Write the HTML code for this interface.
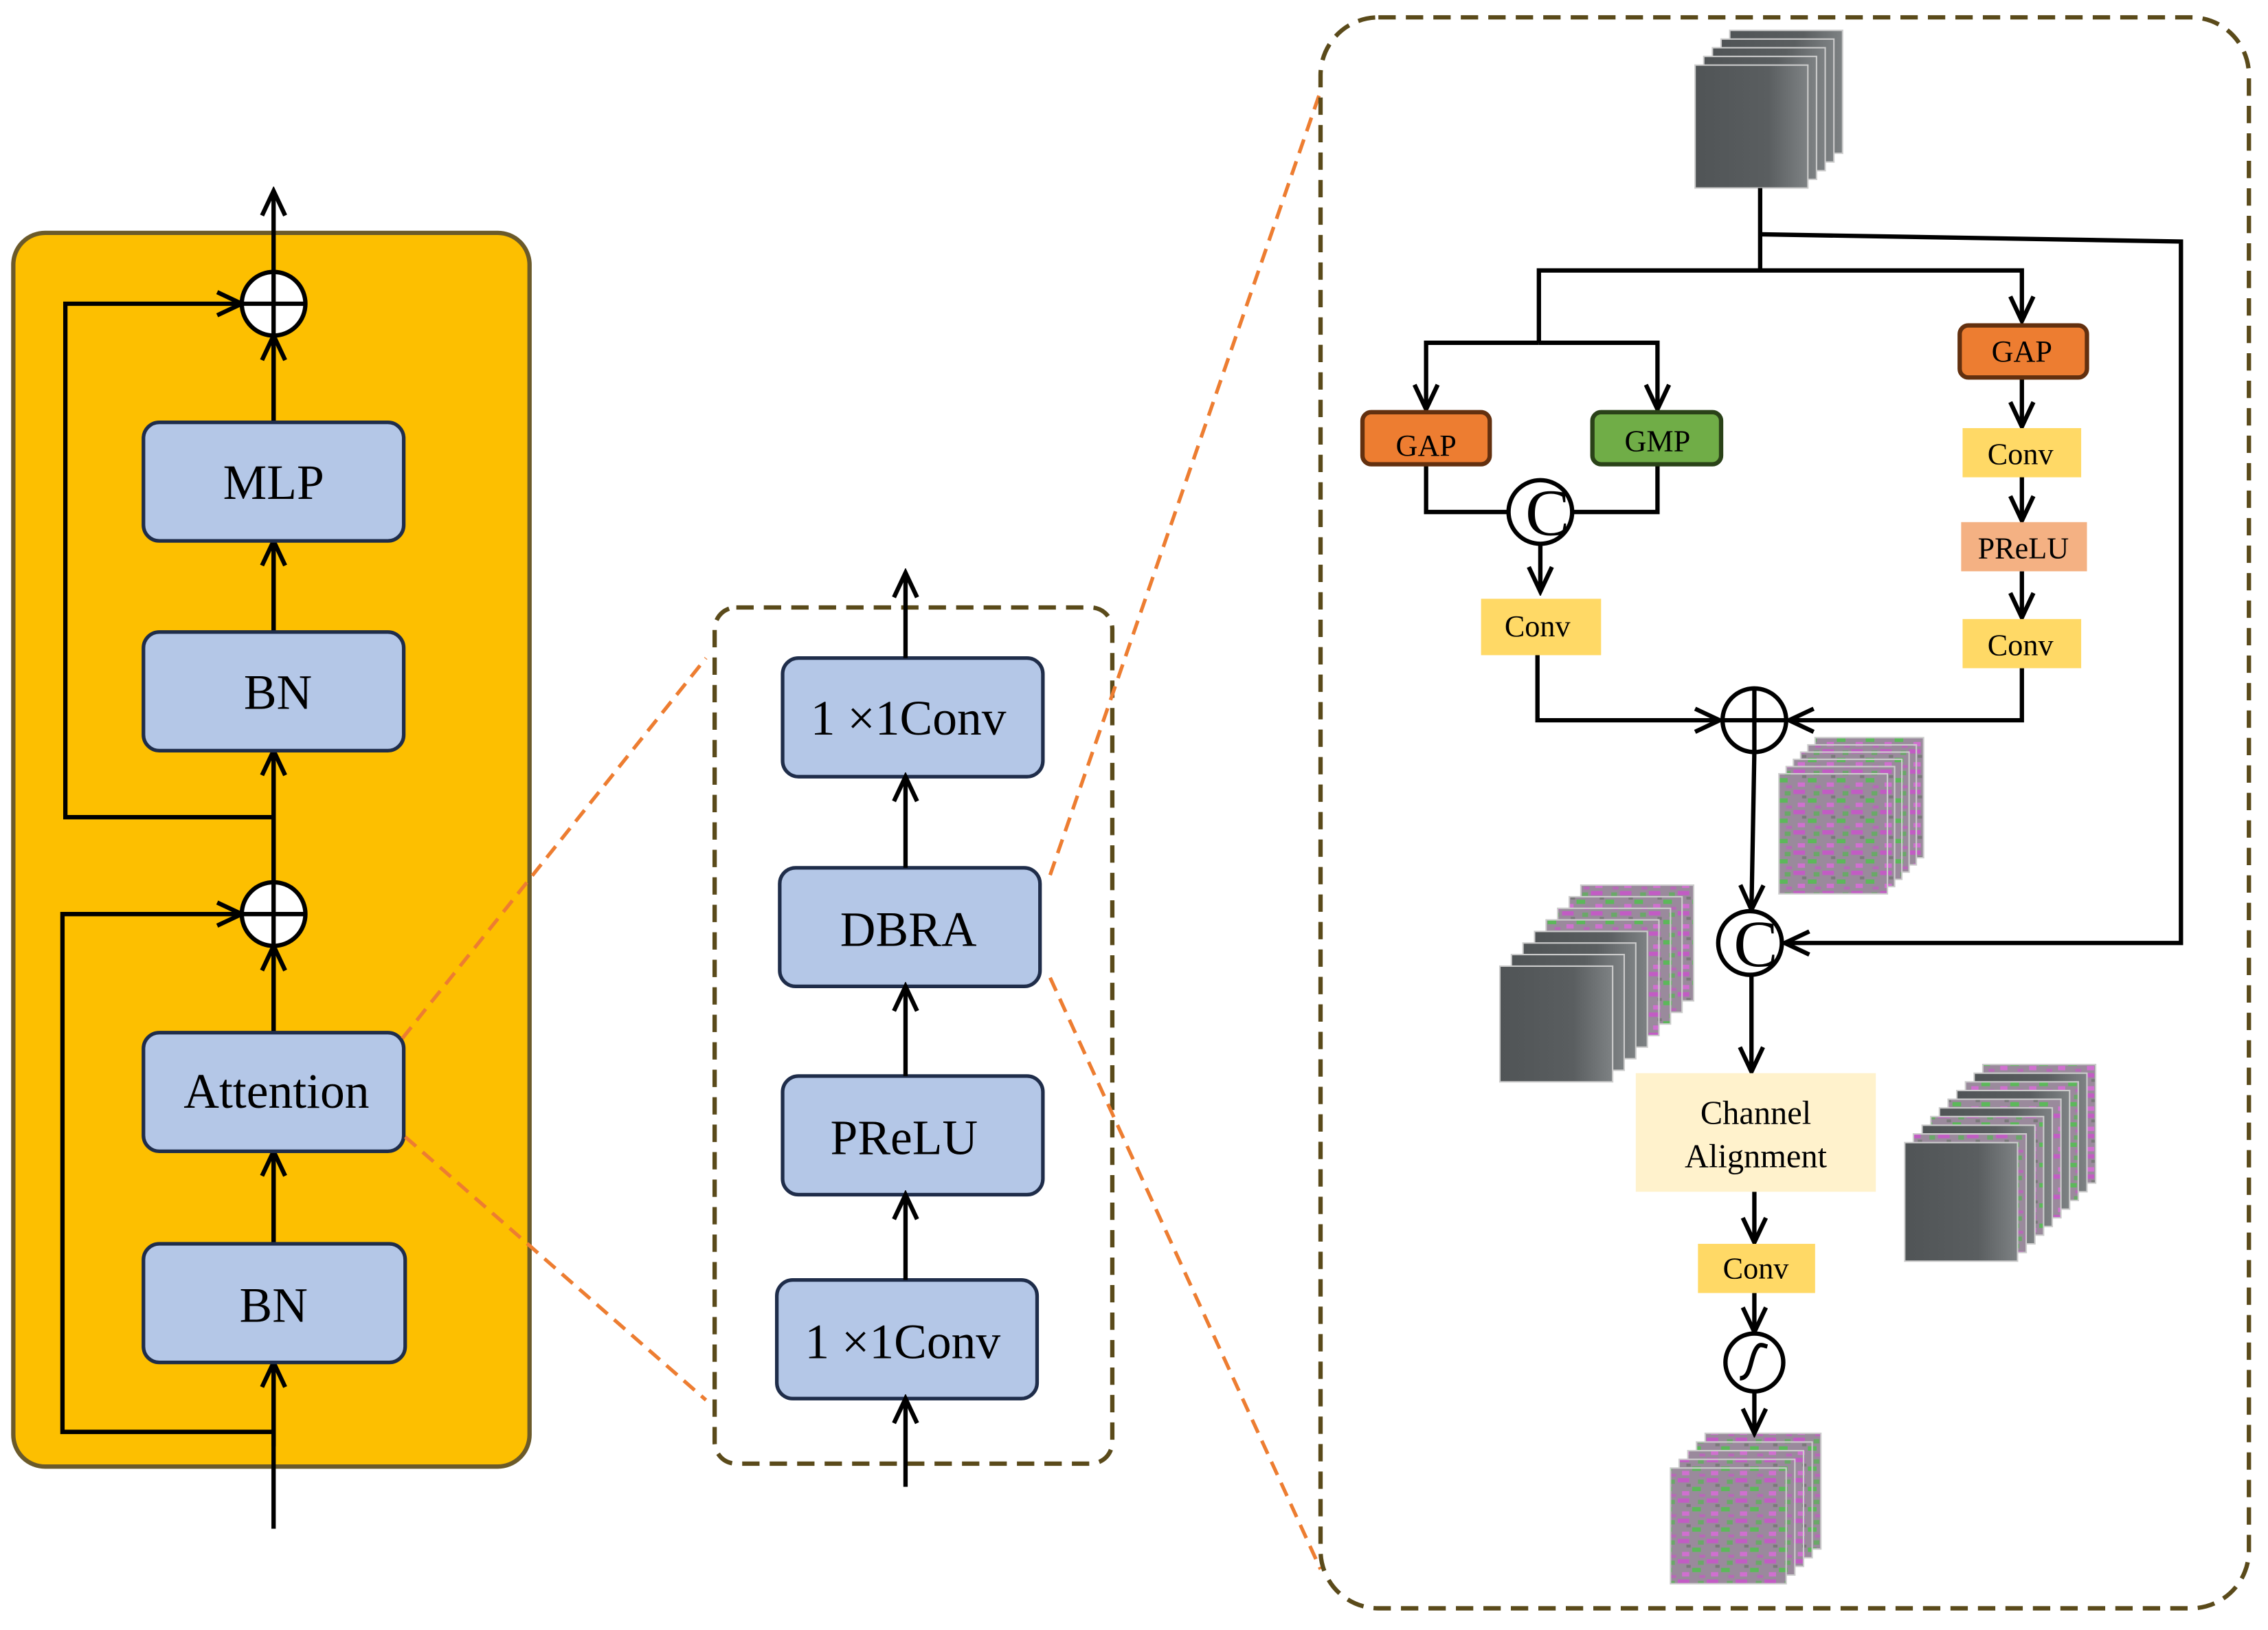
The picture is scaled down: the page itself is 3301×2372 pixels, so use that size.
<!DOCTYPE html>
<html><head><meta charset="utf-8"><style>
html,body{margin:0;padding:0;background:#fff}
svg{display:block}
text{font-family:"Liberation Serif",serif;fill:#000}
</style></head><body>
<svg id="s" width="3301" height="2372" viewBox="0 0 1568 1127" xmlns="http://www.w3.org/2000/svg">
<defs>
<marker id="a" viewBox="0 0 22 22" refX="19" refY="11" markerWidth="22" markerHeight="22" markerUnits="userSpaceOnUse" orient="auto">
<path d="M2,3 L19,11 L2,19" fill="none" stroke="#000" stroke-width="3"/>
</marker>
<pattern id="col" width="20" height="14" patternUnits="userSpaceOnUse">
<rect width="20" height="14" fill="#9a8a9c"/>
<rect x="0" y="0" width="8" height="3" fill="#c25cc4"/>
<rect x="10" y="6" width="6" height="3" fill="#5cb85a"/>
<rect x="3" y="9" width="5" height="3" fill="#d070d0"/>
<rect x="14" y="1" width="4" height="3" fill="#6aa868"/>
<rect x="6" y="4" width="3" height="2" fill="#7a7a7a"/>
<rect x="15" y="11" width="4" height="2" fill="#b868b8"/>
</pattern>
<linearGradient id="gr" x1="0" y1="0" x2="1" y2="0">
<stop offset="0" stop-color="#505456"/><stop offset="0.65" stop-color="#5a5e60"/><stop offset="1" stop-color="#7e8284"/>
</linearGradient>
</defs>
<g fill="none" stroke="#000" stroke-width="3">
<rect x="9" y="161" width="357" height="853" rx="22" fill="#FDBF00" stroke="#6b5a2a"/>
<line x1="189" y1="1057" x2="189" y2="132" marker-end="url(#a)"/>
<polyline points="189,565 45,565 45,210 167,210" marker-end="url(#a)"/>
<polyline points="189,990 43,990 43,632 167,632" marker-end="url(#a)"/>
</g>
<g stroke="#000" stroke-width="3" fill="none">
<line x1="189" y1="292" x2="189" y2="232" marker-end="url(#a)"/>
<line x1="189" y1="437" x2="189" y2="374" marker-end="url(#a)"/>
<line x1="189" y1="610" x2="189" y2="519" marker-end="url(#a)"/>
<line x1="189" y1="714" x2="189" y2="654" marker-end="url(#a)"/>
<line x1="189" y1="860" x2="189" y2="796" marker-end="url(#a)"/>
<line x1="189" y1="1000" x2="189" y2="942" marker-end="url(#a)"/>
</g>
<g stroke="#1f2d4a" stroke-width="2.5" fill="#B4C7E7">
<rect x="99" y="292" width="180" height="82" rx="11"/>
<rect x="99" y="437" width="180" height="82" rx="11"/>
<rect x="99" y="714" width="180" height="82" rx="11"/>
<rect x="99" y="860" width="181" height="82" rx="11"/>
<rect x="541" y="455" width="180" height="82" rx="11"/>
<rect x="539" y="600" width="180" height="82" rx="11"/>
<rect x="541" y="744" width="180" height="82" rx="11"/>
<rect x="537" y="885" width="180" height="82" rx="11"/>
</g>
<g font-size="34" text-anchor="middle">
<text x="189" y="345">MLP</text>
<text x="192" y="490">BN</text>
<text x="191" y="766">Attention</text>
<text x="189" y="914">BN</text>
<text x="628" y="508">1 ×1Conv</text>
<text x="628" y="654">DBRA</text>
<text x="625" y="798">PReLU</text>
<text x="624" y="939">1 ×1Conv</text>
</g>
<g stroke="#000" stroke-width="3" fill="#fff">
<circle cx="189" cy="210" r="22"/><circle cx="189" cy="632" r="22"/>
</g>
<g stroke="#000" stroke-width="3">
<line x1="167" y1="210" x2="211" y2="210"/><line x1="189" y1="188" x2="189" y2="232"/>
<line x1="167" y1="632" x2="211" y2="632"/><line x1="189" y1="610" x2="189" y2="654"/>
</g>
<rect x="494" y="420" width="275" height="592" rx="15" fill="none" stroke="#5a4a1a" stroke-width="3" stroke-dasharray="12,7"/>
<g stroke="#000" stroke-width="3" fill="none">
<line x1="626" y1="1028" x2="626" y2="967" marker-end="url(#a)"/>
<line x1="626" y1="885" x2="626" y2="826" marker-end="url(#a)"/>
<line x1="626" y1="744" x2="626" y2="682" marker-end="url(#a)"/>
<line x1="626" y1="600" x2="626" y2="537" marker-end="url(#a)"/>
<line x1="626" y1="455" x2="626" y2="396" marker-end="url(#a)"/>
</g>
<g stroke="#ED7D31" stroke-width="2.5" stroke-dasharray="10,6">
<line x1="278" y1="718" x2="488" y2="455"/>
<line x1="280" y1="786" x2="488" y2="968"/>
<line x1="726" y1="605" x2="913" y2="63"/>
<line x1="726" y1="676" x2="913" y2="1085"/>
</g>
<rect x="913" y="12" width="642" height="1100" rx="40" fill="none" stroke="#5a4a1a" stroke-width="3" stroke-dasharray="12,7"/>
<g id="stk"></g>
<g stroke="#000" stroke-width="3" fill="none">
<polyline points="1217,130 1217,187"/>
<polyline points="1217,162 1508,167 1508,652 1234,652" marker-end="url(#a)"/>
<polyline points="1064,237 1064,187 1398,187 1398,222" marker-end="url(#a)"/>
<polyline points="1064,237 986,237 986,283" marker-end="url(#a)"/>
<polyline points="1064,237 1146,237 1146,283" marker-end="url(#a)"/>
<polyline points="986,321 986,354 1043,354"/>
<polyline points="1146,321 1146,354 1087,354"/>
<line x1="1065" y1="376" x2="1065" y2="409" marker-end="url(#a)"/>
<line x1="1398" y1="261" x2="1398" y2="295" marker-end="url(#a)"/>
<line x1="1398" y1="330" x2="1398" y2="360" marker-end="url(#a)"/>
<line x1="1398" y1="395" x2="1398" y2="427" marker-end="url(#a)"/>
<polyline points="1398,462 1398,498 1237,498" marker-end="url(#a)"/>
<polyline points="1063,452 1063,498 1189,498" marker-end="url(#a)"/>
<line x1="1213" y1="520" x2="1211" y2="629" marker-end="url(#a)"/>
<line x1="1211" y1="674" x2="1211" y2="741" marker-end="url(#a)"/>
<line x1="1213" y1="824" x2="1213" y2="859" marker-end="url(#a)"/>
<line x1="1213" y1="894" x2="1213" y2="921" marker-end="url(#a)"/>
<line x1="1213" y1="962" x2="1213" y2="991" marker-end="url(#a)"/>
</g>
<g stroke-width="3">
<rect x="942" y="285" width="88" height="36" rx="6" fill="#ED7D31" stroke="#63300f"/>
<rect x="1101" y="285" width="89" height="36" rx="6" fill="#70AD47" stroke="#2a4218"/>
<rect x="1355" y="225" width="88" height="36" rx="6" fill="#ED7D31" stroke="#63300f"/>
</g>
<g stroke="none">
<rect x="1024" y="414" width="83" height="39" fill="#FFD966"/>
<rect x="1357" y="296" width="82" height="34" fill="#FFD966"/>
<rect x="1356" y="361" width="87" height="34" fill="#F4B183"/>
<rect x="1357" y="428" width="82" height="34" fill="#FFD966"/>
<rect x="1131" y="742" width="166" height="82" fill="#FFF2CC"/>
<rect x="1174" y="860" width="81" height="34" fill="#FFD966"/>
</g>
<g font-size="21" text-anchor="middle">
<text x="986" y="315">GAP</text>
<text x="1146" y="312">GMP</text>
<text x="1398" y="250">GAP</text>
<text x="1063" y="440">Conv</text>
<text x="1397" y="321">Conv</text>
<text x="1399" y="386">PReLU</text>
<text x="1397" y="453">Conv</text>
<text x="1214" y="884">Conv</text>
<text x="1214" y="777" font-size="23">Channel</text>
<text x="1214" y="807" font-size="23">Alignment</text>
</g>
<g stroke="#000" stroke-width="3" fill="#fff">
<circle cx="1065" cy="354" r="22"/>
<circle cx="1213" cy="498" r="22"/>
<circle cx="1210" cy="652" r="22"/>
<circle cx="1213" cy="942" r="20"/>
</g>
<g stroke="#000" stroke-width="3" fill="none">
<line x1="1191" y1="498" x2="1235" y2="498"/><line x1="1213" y1="476" x2="1213" y2="520"/>
<path d="M1203,953 C1210,953 1210,942 1213,935 C1216,928 1218,930 1222,931" />
</g>
<g font-size="46" text-anchor="middle">
<text x="1070" y="370">C</text>
<text x="1214" y="668">C</text>
</g>
</svg>
<script>
var g=document.getElementById('stk'),ns='http://www.w3.org/2000/svg';
function sq(x,y,w,h,f){var r=document.createElementNS(ns,'rect');r.setAttribute('x',x);r.setAttribute('y',y);r.setAttribute('width',w);r.setAttribute('height',h);r.setAttribute('fill',f);r.setAttribute('stroke','#ccc');r.setAttribute('stroke-width','1');g.appendChild(r);}
function stack(fx,fy,w,h,n,d,fills){for(var i=n-1;i>=0;i--){sq(fx+i*d,fy-i*d,w,h,fills(i));}}
stack(1172,45,78,85,5,6,function(){return 'url(#gr)';});
stack(1230,535,75,83,6,5,function(){return 'url(#col)';});
stack(1037,668,78,80,8,8,function(i){return i<4?'url(#gr)':'url(#col)';});
stack(1317,790,78,82,10,6,function(i){return i%2==0?'url(#gr)':'url(#col)';});
stack(1155,1015,80,80,5,6,function(){return 'url(#col)';});
</script>
</body></html>
